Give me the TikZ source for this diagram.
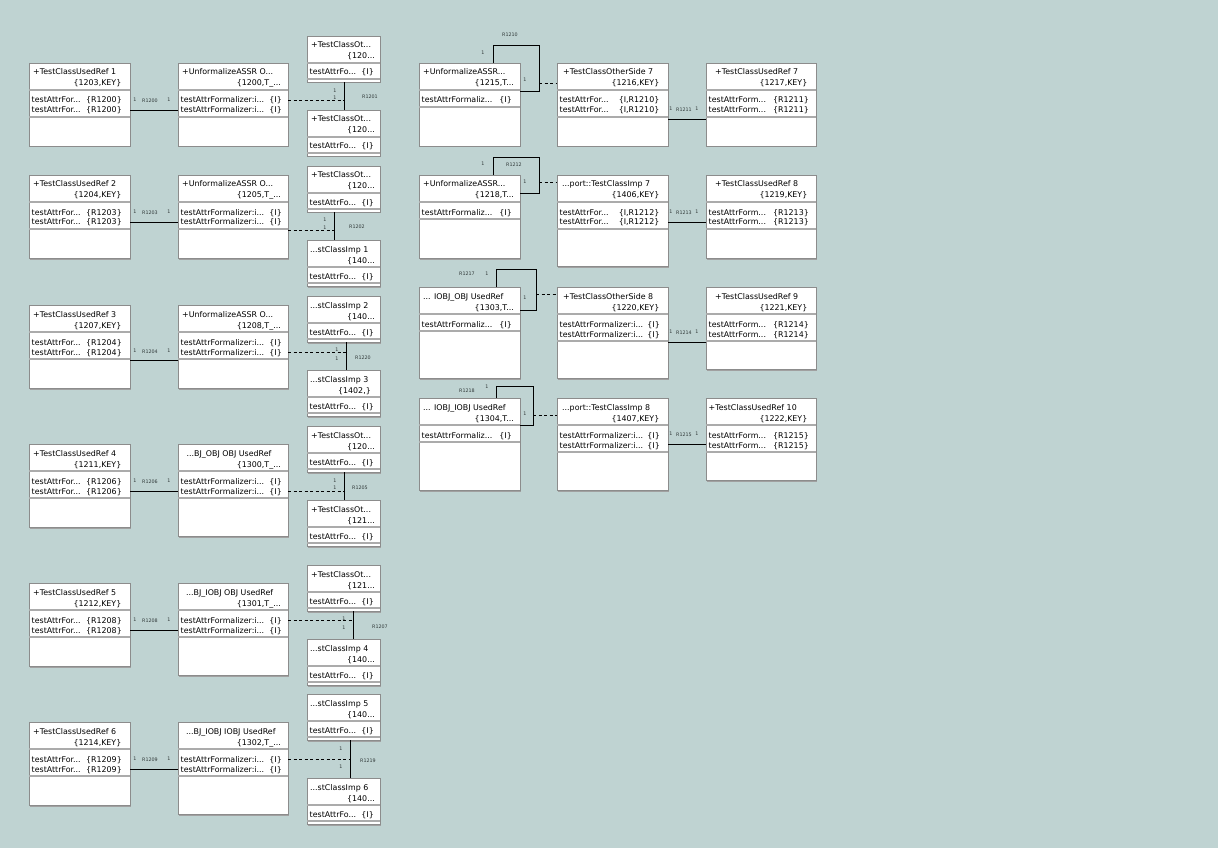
\documentclass[tikz,border=0pt]{standalone}
\usepackage{fontspec}
\setmainfont{DejaVu Sans}
\usetikzlibrary{calc}
\definecolor{bg}{HTML}{BFD3D2}
\definecolor{bord}{HTML}{8C8C8C}
\definecolor{sepc}{HTML}{ABABAB}
\definecolor{shad}{HTML}{A0A0A0}
\definecolor{lbl}{HTML}{303838}
\tikzset{
  classbox/.style={draw=bord, fill=white, line width=0.8pt, inner sep=0pt, outer sep=0pt, rectangle},
  txt/.style={inner sep=0pt, font=\fontsize{7.9}{9}\selectfont, text=black},
  sepline/.style={draw=sepc, line width=1.6pt},
  assoc/.style={draw=black, line width=0.9pt},
  dep/.style={draw=black, line width=0.9pt, dash pattern=on 3pt off 2.5pt},
  lab/.style={inner sep=0pt, font=\fontsize{4.8}{5}\selectfont, text=lbl},
}
% name, x, y, w, h, title, key, title pad, key pad
\newcommand\cbox[9]{%
  \fill[shad] (#2+1,#3+1.5) rectangle ++(#4,#5);
  \node[classbox, minimum width=#4pt, minimum height=#5pt, anchor=north west] (#1) at (#2,#3) {};
  \node[txt, anchor=base west] (#1t) at ([xshift=#8pt,yshift=-12pt]#1.north west) {#6};
  \node[txt, anchor=base east] (#1k) at ([xshift=-#9pt,yshift=-23pt]#1.north east) {#7};
  \draw[sepline] ([yshift=-27pt]#1.north west) -- ([yshift=-27pt]#1.north east);
}
% box, id, baseline, left, right, right pad
\newcommand\cattr[6]{%
  \node[txt, anchor=base west] (#1#2l) at ([xshift=2.5pt,yshift=-#3pt]#1.north west) {#4};
  \node[txt, anchor=base east] (#1#2r) at ([xshift=-#6pt,yshift=-#3pt]#1.north east) {#5};
}
\newcommand\csep[2]{\draw[sepline] ([yshift=-#2pt]#1.north west) -- ([yshift=-#2pt]#1.north east);}
\begin{document}
\begin{tikzpicture}[x=1pt,y=-1pt]
\useasboundingbox (0,0) rectangle (1231,861);
\fill[white] (0,0) rectangle (1231,861);
\fill[bg] (0,0) rectangle (1218,848);

% ---------- column 1 ----------
\cbox{a1}{29}{63}{101}{83}{+TestClassUsedRef 1}{\{1203,KEY\}}{4}{8.5}
\cattr{a1}{x}{40}{testAttrFor...}{\{R1200\}}{8}\cattr{a1}{y}{50}{testAttrFor...}{\{R1200\}}{8}\csep{a1}{54}
\cbox{a2}{29}{175}{101}{83}{+TestClassUsedRef 2}{\{1204,KEY\}}{4}{8.5}
\cattr{a2}{x}{40}{testAttrFor...}{\{R1203\}}{8}\cattr{a2}{y}{50}{testAttrFor...}{\{R1203\}}{8}\csep{a2}{54}
\cbox{a3}{29}{305}{101}{83}{+TestClassUsedRef 3}{\{1207,KEY\}}{4}{8.5}
\cattr{a3}{x}{40}{testAttrFor...}{\{R1204\}}{8}\cattr{a3}{y}{50}{testAttrFor...}{\{R1204\}}{8}\csep{a3}{54}
\cbox{a4}{29}{444}{101}{83}{+TestClassUsedRef 4}{\{1211,KEY\}}{4}{8.5}
\cattr{a4}{x}{40}{testAttrFor...}{\{R1206\}}{8}\cattr{a4}{y}{50}{testAttrFor...}{\{R1206\}}{8}\csep{a4}{54}
\cbox{a5}{29}{583}{101}{83}{+TestClassUsedRef 5}{\{1212,KEY\}}{4}{8.5}
\cattr{a5}{x}{40}{testAttrFor...}{\{R1208\}}{8}\cattr{a5}{y}{50}{testAttrFor...}{\{R1208\}}{8}\csep{a5}{54}
\cbox{a6}{29}{722}{101}{83}{+TestClassUsedRef 6}{\{1214,KEY\}}{4}{8.5}
\cattr{a6}{x}{40}{testAttrFor...}{\{R1209\}}{8}\cattr{a6}{y}{50}{testAttrFor...}{\{R1209\}}{8}\csep{a6}{54}

% ---------- column 2 ----------
\cbox{b1}{178}{63}{110}{83}{+UnformalizeASSR O...}{\{1200,T\_...}{4}{7}
\cattr{b1}{x}{40}{testAttrFormalizer:i...}{\{I\}}{6}\cattr{b1}{y}{50}{testAttrFormalizer:i...}{\{I\}}{6}\csep{b1}{54}
\cbox{b2}{178}{175}{110}{83}{+UnformalizeASSR O...}{\{1205,T\_...}{4}{7}
\cattr{b2}{x}{40}{testAttrFormalizer:i...}{\{I\}}{6}\cattr{b2}{y}{50}{testAttrFormalizer:i...}{\{I\}}{6}\csep{b2}{54}
\cbox{b3}{178}{305}{110}{83}{+UnformalizeASSR O...}{\{1208,T\_...}{4}{7}
\cattr{b3}{x}{40}{testAttrFormalizer:i...}{\{I\}}{6}\cattr{b3}{y}{50}{testAttrFormalizer:i...}{\{I\}}{6}\csep{b3}{54}
\cbox{b4}{178}{444}{110}{92}{...BJ\_OBJ OBJ UsedRef}{\{1300,T\_...}{8.5}{7}
\cattr{b4}{x}{40}{testAttrFormalizer:i...}{\{I\}}{6}\cattr{b4}{y}{50}{testAttrFormalizer:i...}{\{I\}}{6}\csep{b4}{54}
\cbox{b5}{178}{583}{110}{92}{...BJ\_IOBJ OBJ UsedRef}{\{1301,T\_...}{8}{7}
\cattr{b5}{x}{40}{testAttrFormalizer:i...}{\{I\}}{6}\cattr{b5}{y}{50}{testAttrFormalizer:i...}{\{I\}}{6}\csep{b5}{54}
\cbox{b6}{178}{722}{110}{92}{...BJ\_IOBJ IOBJ UsedRef}{\{1302,T\_...}{8}{7}
\cattr{b6}{x}{40}{testAttrFormalizer:i...}{\{I\}}{6}\cattr{b6}{y}{50}{testAttrFormalizer:i...}{\{I\}}{6}\csep{b6}{54}

% ---------- column 3 (small boxes) ----------
\cbox{c1}{307}{36}{73}{46}{+TestClassOt...}{\{120...}{4}{5}\cattr{c1}{x}{39}{testAttrFo...}{\{I\}}{6}\csep{c1}{43}
\cbox{d1}{307}{110}{73}{46}{+TestClassOt...}{\{120...}{4}{5}\cattr{d1}{x}{39}{testAttrFo...}{\{I\}}{6}\csep{d1}{43}
\cbox{c2}{307}{166}{73}{46}{+TestClassOt...}{\{120...}{4}{5}\cattr{c2}{x}{39}{testAttrFo...}{\{I\}}{6}\csep{c2}{43}
\cbox{d2}{307}{240}{73}{46}{...stClassImp 1}{\{140...}{3}{5}\cattr{d2}{x}{39}{testAttrFo...}{\{I\}}{6}\csep{d2}{43}
\cbox{c3}{307}{296}{73}{46}{...stClassImp 2}{\{140...}{3}{5}\cattr{c3}{x}{39}{testAttrFo...}{\{I\}}{6}\csep{c3}{43}
\cbox{d3}{307}{370}{73}{46}{...stClassImp 3}{\{1402,\}}{3}{9}\cattr{d3}{x}{39}{testAttrFo...}{\{I\}}{6}\csep{d3}{43}
\cbox{c4}{307}{426}{73}{46}{+TestClassOt...}{\{120...}{4}{5}\cattr{c4}{x}{39}{testAttrFo...}{\{I\}}{6}\csep{c4}{43}
\cbox{d4}{307}{500}{73}{46}{+TestClassOt...}{\{121...}{4}{5}\cattr{d4}{x}{39}{testAttrFo...}{\{I\}}{6}\csep{d4}{43}
\cbox{c5}{307}{565}{73}{46}{+TestClassOt...}{\{121...}{4}{5}\cattr{c5}{x}{39}{testAttrFo...}{\{I\}}{6}\csep{c5}{43}
\cbox{d5}{307}{639}{73}{46}{...stClassImp 4}{\{140...}{3}{5}\cattr{d5}{x}{39}{testAttrFo...}{\{I\}}{6}\csep{d5}{43}
\cbox{c6}{307}{694}{73}{46}{...stClassImp 5}{\{140...}{3}{5}\cattr{c6}{x}{39}{testAttrFo...}{\{I\}}{6}\csep{c6}{43}
\cbox{d6}{307}{778}{73}{46}{...stClassImp 6}{\{140...}{3}{5}\cattr{d6}{x}{39}{testAttrFo...}{\{I\}}{6}\csep{d6}{43}

% ---------- column 4 ----------
\cbox{f1}{419}{63}{101}{83}{+UnformalizeASSR...}{\{1215,T...}{4}{6}\cattr{f1}{x}{40}{testAttrFormaliz...}{\{I\}}{8}\csep{f1}{44}
\cbox{f2}{419}{175}{101}{83}{+UnformalizeASSR...}{\{1218,T...}{4}{6}\cattr{f2}{x}{40}{testAttrFormaliz...}{\{I\}}{8}\csep{f2}{44}
\cbox{f3}{419}{287}{101}{91}{... IOBJ\_OBJ UsedRef}{\{1303,T...}{4}{6}\cattr{f3}{x}{40}{testAttrFormaliz...}{\{I\}}{8}\csep{f3}{44}
\cbox{f4}{419}{398}{101}{92}{... IOBJ\_IOBJ UsedRef}{\{1304,T...}{4}{6}\cattr{f4}{x}{40}{testAttrFormaliz...}{\{I\}}{8}\csep{f4}{44}

% ---------- column 5 ----------
\cbox{g1}{557}{63}{111}{83}{+TestClassOtherSide 7}{\{1216,KEY\}}{6}{8.5}
\cattr{g1}{x}{40}{testAttrFor...}{\{I,R1210\}}{8.5}\cattr{g1}{y}{50}{testAttrFor...}{\{I,R1210\}}{8.5}\csep{g1}{54}
\cbox{g2}{557}{175}{111}{91}{...port::TestClassImp 7}{\{1406,KEY\}}{5}{8.5}
\cattr{g2}{x}{40}{testAttrFor...}{\{I,R1212\}}{8.5}\cattr{g2}{y}{50}{testAttrFor...}{\{I,R1212\}}{8.5}\csep{g2}{54}
\cbox{g3}{557}{287}{111}{91}{+TestClassOtherSide 8}{\{1220,KEY\}}{6}{8.5}
\cattr{g3}{x}{40}{testAttrFormalizer:i...}{\{I\}}{8}\cattr{g3}{y}{50}{testAttrFormalizer:i...}{\{I\}}{8}\csep{g3}{54}
\cbox{g4}{557}{398}{111}{92}{...port::TestClassImp 8}{\{1407,KEY\}}{5}{8.5}
\cattr{g4}{x}{40}{testAttrFormalizer:i...}{\{I\}}{8}\cattr{g4}{y}{50}{testAttrFormalizer:i...}{\{I\}}{8}\csep{g4}{54}

% ---------- column 6 ----------
\cbox{h1}{706}{63}{110}{83}{+TestClassUsedRef 7}{\{1217,KEY\}}{9}{8.5}
\cattr{h1}{x}{40}{testAttrForm...}{\{R1211\}}{7}\cattr{h1}{y}{50}{testAttrForm...}{\{R1211\}}{7}\csep{h1}{54}
\cbox{h2}{706}{175}{110}{83}{+TestClassUsedRef 8}{\{1219,KEY\}}{9}{8.5}
\cattr{h2}{x}{40}{testAttrForm...}{\{R1213\}}{7}\cattr{h2}{y}{50}{testAttrForm...}{\{R1213\}}{7}\csep{h2}{54}
\cbox{h3}{706}{287}{110}{82}{+TestClassUsedRef 9}{\{1221,KEY\}}{9}{8.5}
\cattr{h3}{x}{40}{testAttrForm...}{\{R1214\}}{7}\cattr{h3}{y}{50}{testAttrForm...}{\{R1214\}}{7}\csep{h3}{54}
\cbox{h4}{706}{398}{110}{82}{+TestClassUsedRef 10}{\{1222,KEY\}}{2.5}{8.5}
\cattr{h4}{x}{40}{testAttrForm...}{\{R1215\}}{7}\cattr{h4}{y}{50}{testAttrForm...}{\{R1215\}}{7}\csep{h4}{54}

% ---------- left connectors ----------
\draw[assoc] ([yshift=-47pt]a1.north east) -- ([yshift=-47pt]b1.north west);
\draw[assoc] ([yshift=-47pt]a2.north east) -- ([yshift=-47pt]b2.north west);
\draw[assoc] ([yshift=-55pt]a3.north east) -- ([yshift=-55pt]b3.north west);
\draw[assoc] ([yshift=-47pt]a4.north east) -- ([yshift=-47pt]b4.north west);
\draw[assoc] ([yshift=-47pt]a5.north east) -- ([yshift=-47pt]b5.north west);
\draw[assoc] ([yshift=-47pt]a6.north east) -- ([yshift=-47pt]b6.north west);

\node[lab] (m1a) at (135,100) {1}; \node[lab] (m1r) at (150,101) {R1200}; \node[lab] (m1b) at (169,100) {1};
\node[lab] (m2a) at (135,212) {1}; \node[lab] (m2r) at (150,213) {R1203}; \node[lab] (m2b) at (169,212) {1};
\node[lab] (m3a) at (135,351) {1}; \node[lab] (m3r) at (150,352) {R1204}; \node[lab] (m3b) at (169,351) {1};
\node[lab] (m4a) at (135,481) {1}; \node[lab] (m4r) at (150,482) {R1206}; \node[lab] (m4b) at (169,481) {1};
\node[lab] (m5a) at (135,620) {1}; \node[lab] (m5r) at (150,621) {R1208}; \node[lab] (m5b) at (169,620) {1};
\node[lab] (m6a) at (135,759) {1}; \node[lab] (m6r) at (150,760) {R1209}; \node[lab] (m6b) at (169,759) {1};

% vertical links between small boxes and dashed links to them
\coordinate (v1) at ([xshift=0.5pt]c1.south); \coordinate (e1) at ([yshift=-37pt]b1.north east);
\coordinate (v2) at ([xshift=-9.5pt]c2.south); \coordinate (e2) at ([yshift=-55pt]b2.north east);
\coordinate (v3) at ([xshift=2.5pt]c3.south); \coordinate (e3) at ([yshift=-47pt]b3.north east);
\coordinate (v4) at ([xshift=0.5pt]c4.south); \coordinate (e4) at ([yshift=-47pt]b4.north east);
\coordinate (v5) at ([xshift=9.5pt]c5.south); \coordinate (e5) at ([yshift=-37pt]b5.north east);
\coordinate (v6) at ([xshift=6.5pt]c6.south); \coordinate (e6) at ([yshift=-37pt]b6.north east);
\draw[assoc] (v1) -- (v1 |- d1.north); \draw[dep] (e1) -- (e1 -| v1);
\draw[assoc] (v2) -- (v2 |- d2.north); \draw[dep] (e2) -- (e2 -| v2);
\draw[assoc] (v3) -- (v3 |- d3.north); \draw[dep] (e3) -- (e3 -| v3);
\draw[assoc] (v4) -- (v4 |- d4.north); \draw[dep] (e4) -- (e4 -| v4);
\draw[assoc] (v5) -- (v5 |- d5.north); \draw[dep] (e5) -- (e5 -| v5);
\draw[assoc] (v6) -- (v6 |- d6.north); \draw[dep] (e6) -- (e6 -| v6);

\node[lab] (n1a) at (335,91) {1}; \node[lab] (n1b) at (335,98) {1}; \node[lab] (n1r) at (370,97) {R1201};
\node[lab] (n2a) at (325,220) {1}; \node[lab] (n2b) at (325,228) {1}; \node[lab] (n2r) at (357,227) {R1202};
\node[lab] (n3a) at (337,350) {1}; \node[lab] (n3b) at (337,359) {1}; \node[lab] (n3r) at (363,358) {R1220};
\node[lab] (n4a) at (335,481) {1}; \node[lab] (n4b) at (335,488) {1}; \node[lab] (n4r) at (360,488) {R1205};
\node[lab] (n5a) at (344,619) {1}; \node[lab] (n5b) at (344,628) {1}; \node[lab] (n5r) at (380,627) {R1207};
\node[lab] (n6a) at (341,749) {1}; \node[lab] (n6b) at (341,767) {1}; \node[lab] (n6r) at (368,761) {R1219};

% ---------- right side: self loops ----------
\coordinate (p1) at ([xshift=19pt,yshift=18pt]f1.north east);
\draw[assoc] ([xshift=-27pt]f1.north east) |- (p1) |- ([yshift=-28pt]f1.north east);
\coordinate (q1) at ([yshift=-20pt]g1.north west); \draw[dep] (q1 -| p1) -- (q1);
\coordinate (p2) at ([xshift=19pt,yshift=18pt]f2.north east);
\draw[assoc] ([xshift=-27pt]f2.north east) |- (p2) |- ([yshift=-18pt]f2.north east);
\coordinate (q2) at ([yshift=-7pt]g2.north west); \draw[dep] (q2 -| p2) -- (q2);
\coordinate (p3) at ([xshift=16pt,yshift=18pt]f3.north east);
\draw[assoc] ([xshift=-24pt]f3.north east) |- (p3) |- ([yshift=-23pt]f3.north east);
\coordinate (q3) at ([yshift=-7pt]g3.north west); \draw[dep] (q3 -| p3) -- (q3);
\coordinate (p4) at ([xshift=13pt,yshift=12pt]f4.north east);
\draw[assoc] ([xshift=-24pt]f4.north east) |- (p4) |- ([yshift=-27pt]f4.north east);
\coordinate (q4) at ([yshift=-17pt]g4.north west); \draw[dep] (q4 -| p4) -- (q4);

\node[lab] (s1a) at (483,53) {1}; \node[lab] (s1r) at (510,35) {R1210}; \node[lab] (s1b) at (525,80) {1};
\node[lab] (s2a) at (483,164) {1}; \node[lab] (s2r) at (514,165) {R1212}; \node[lab] (s2b) at (525,182) {1};
\node[lab] (s3r) at (467,274) {R1217}; \node[lab] (s3a) at (487,274) {1}; \node[lab] (s3b) at (525,298) {1};
\node[lab] (s4r) at (467,391) {R1218}; \node[lab] (s4a) at (487,387) {1}; \node[lab] (s4b) at (525,414) {1};

% ---------- right side: column 5 to column 6 ----------
\draw[assoc] ([yshift=-56pt]g1.north east) -- ([yshift=-56pt]h1.north west);
\draw[assoc] ([yshift=-47pt]g2.north east) -- ([yshift=-47pt]h2.north west);
\draw[assoc] ([yshift=-55pt]g3.north east) -- ([yshift=-55pt]h3.north west);
\draw[assoc] ([yshift=-46pt]g4.north east) -- ([yshift=-46pt]h4.north west);

\node[lab] (t1a) at (671,109) {1}; \node[lab] (t1r) at (684,110) {R1211}; \node[lab] (t1b) at (697,109) {1};
\node[lab] (t2a) at (671,212) {1}; \node[lab] (t2r) at (684,213) {R1213}; \node[lab] (t2b) at (697,212) {1};
\node[lab] (t3a) at (671,332) {1}; \node[lab] (t3r) at (684,333) {R1214}; \node[lab] (t3b) at (697,332) {1};
\node[lab] (t4a) at (671,434) {1}; \node[lab] (t4r) at (684,435) {R1215}; \node[lab] (t4b) at (697,434) {1};
\end{tikzpicture}
\end{document}
